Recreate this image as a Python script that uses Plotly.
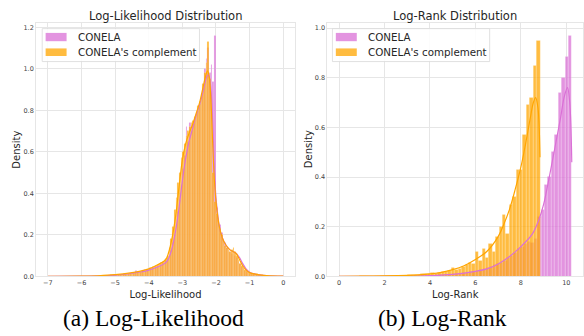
import plotly.graph_objects as go

W, H = 584, 336

# ---------------- Left panel: Log-Likelihood ----------------
ll_bin_start = -5.5
ll_bin_width = 0.05
ll_conela = [
    0.001, 0.002, 0.002, 0.003, 0.003, 0.004, 0.004, 0.004, 0.005, 0.006,
    0.006, 0.007, 0.007, 0.008, 0.009, 0.009, 0.010, 0.012, 0.013, 0.014,
    0.015, 0.016, 0.025, 0.018, 0.020, 0.022, 0.023, 0.030, 0.026, 0.030,
    0.031, 0.034, 0.037, 0.040, 0.044, 0.048, 0.053, 0.058, 0.064, 0.072,
    0.075, 0.085, 0.100, 0.125, 0.160, 0.200, 0.250, 0.310, 0.370, 0.440,
    0.520, 0.580, 0.720, 0.650, 0.740, 0.700, 0.730, 0.760, 0.780, 0.800,
    0.830, 0.860, 0.900, 1.000, 1.050, 1.100, 0.980, 1.020, 0.940, 1.160,
    0.330, 0.280, 0.250, 0.210, 0.180, 0.160, 0.140, 0.120, 0.120, 0.110,
    0.110, 0.100, 0.090, 0.070, 0.060, 0.045, 0.035, 0.028, 0.022, 0.018,
    0.015, 0.013, 0.011, 0.010, 0.008, 0.007, 0.006, 0.005, 0.004, 0.003,
]
ll_complement = [
    0.002, 0.003, 0.003, 0.004, 0.004, 0.005, 0.005, 0.006, 0.006, 0.007,
    0.007, 0.008, 0.009, 0.008, 0.010, 0.011, 0.012, 0.011, 0.014, 0.015,
    0.016, 0.018, 0.017, 0.020, 0.022, 0.021, 0.025, 0.027, 0.026, 0.030,
    0.040, 0.042, 0.045, 0.048, 0.052, 0.056, 0.060, 0.066, 0.072, 0.078,
    0.085, 0.100, 0.140, 0.180, 0.240, 0.320, 0.380, 0.450, 0.500, 0.570,
    0.600, 0.640, 0.680, 0.700, 0.720, 0.740, 0.750, 0.770, 0.790, 0.820,
    0.840, 0.880, 0.930, 0.980, 1.030, 1.130, 0.950, 0.800, 0.500, 0.360,
    0.300, 0.260, 0.230, 0.200, 0.170, 0.150, 0.140, 0.130, 0.120, 0.130,
    0.140, 0.120, 0.100, 0.080, 0.060, 0.050, 0.040, 0.030, 0.025, 0.020,
    0.018, 0.015, 0.012, 0.012, 0.015, 0.010, 0.008, 0.006, 0.004, 0.003,
]
ll_kde_x = [-7, -6, -5.5, -5, -4.5, -4.25, -4, -3.75, -3.5, -3.4, -3.3, -3.2, -3.1,
            -3.0, -2.9, -2.8, -2.7, -2.6, -2.5, -2.4, -2.3, -2.25, -2.2, -2.15, -2.1,
            -2.05, -2.0, -1.95, -1.9, -1.8, -1.7, -1.6, -1.5, -1.4, -1.3, -1.2, -1.1,
            -1.0, -0.8, -0.5, 0]
ll_kde_complement = [0, 0.001, 0.003, 0.008, 0.018, 0.025, 0.036, 0.055, 0.08, 0.12,
                     0.19, 0.29, 0.43, 0.56, 0.64, 0.69, 0.73, 0.78, 0.83, 0.90, 0.97,
                     0.99, 0.96, 0.85, 0.65, 0.47, 0.36, 0.29, 0.24, 0.18, 0.15, 0.13,
                     0.12, 0.11, 0.08, 0.05, 0.03, 0.018, 0.01, 0.004, 0.001]
ll_kde_conela = [0, 0.001, 0.002, 0.006, 0.015, 0.021, 0.030, 0.045, 0.065, 0.09,
                 0.14, 0.22, 0.33, 0.46, 0.57, 0.65, 0.71, 0.77, 0.82, 0.88, 0.95,
                 0.97, 0.96, 0.90, 0.75, 0.52, 0.38, 0.30, 0.24, 0.18, 0.15, 0.13,
                 0.12, 0.11, 0.09, 0.06, 0.035, 0.02, 0.01, 0.004, 0.001]
ll_xticks = [-7, -6, -5, -4, -3, -2, -1, 0]
ll_yticks = [0.0, 0.2, 0.4, 0.6, 0.8, 1.0, 1.2]

# ---------------- Right panel: Log-Rank ----------------
lr_bin_width = 0.15
lr_complement_start = -0.01
lr_complement = [
    0.0, 0.0, 0.0005, 0.0, 0.0005, 0.0005, 0.001, 0.001, 0.001, 0.001,
    0.001, 0.0015, 0.0015, 0.002, 0.002, 0.002, 0.003, 0.003, 0.004, 0.004,
    0.005, 0.005, 0.008, 0.006, 0.009, 0.012, 0.010, 0.013, 0.012, 0.016,
    0.018, 0.020, 0.022, 0.035, 0.028, 0.032, 0.040, 0.045, 0.055, 0.050,
    0.100, 0.065, 0.110, 0.075, 0.130, 0.100, 0.160, 0.200, 0.250, 0.170,
    0.290, 0.320, 0.430, 0.430, 0.570, 0.690, 0.720, 0.850, 0.950,
]
lr_conela_start = 0.04
lr_conela = [
    0, 0, 0, 0, 0, 0, 0, 0.0005, 0.0005, 0.0005,
    0.0005, 0.0005, 0.001, 0.001, 0.001, 0.001, 0.001, 0.001, 0.0015, 0.0015,
    0.002, 0.002, 0.002, 0.0025, 0.003, 0.003, 0.004, 0.004, 0.005, 0.005,
    0.006, 0.007, 0.008, 0.009, 0.010, 0.012, 0.013, 0.015, 0.017, 0.020,
    0.022, 0.025, 0.030, 0.033, 0.038, 0.045, 0.050, 0.055, 0.065, 0.075,
    0.085, 0.095, 0.110, 0.120, 0.130, 0.140, 0.135, 0.150, 0.240, 0.270,
    0.370, 0.400, 0.500, 0.570, 0.740, 0.800, 0.885, 0.970,
]
lr_kde_complement_x = [0, 1, 2, 3, 3.5, 4, 4.5, 5, 5.5, 6, 6.5, 7, 7.25, 7.5, 7.75,
                       8.0, 8.2, 8.4, 8.55, 8.65, 8.75, 8.84]
lr_kde_complement = [0.0005, 0.001, 0.002, 0.004, 0.006, 0.010, 0.016, 0.027, 0.043,
                     0.068, 0.100, 0.160, 0.210, 0.270, 0.350, 0.440, 0.530, 0.630,
                     0.700, 0.720, 0.680, 0.480]
lr_kde_conela_x = [0, 2, 3, 4, 5, 6, 6.5, 7, 7.5, 8, 8.5, 8.8, 9.0, 9.25, 9.5, 9.75,
                   9.9, 10.05, 10.15, 10.24]
lr_kde_conela = [0, 0.0005, 0.001, 0.003, 0.008, 0.020, 0.030, 0.050, 0.080, 0.120,
                 0.170, 0.230, 0.290, 0.400, 0.520, 0.640, 0.720, 0.760, 0.700, 0.460]
lr_xticks = [0, 2, 4, 6, 8, 10]
lr_yticks = [0.0, 0.2, 0.4, 0.6, 0.8, 1.0]

series_names = ["CONELA", "CONELA's complement"]
titles = ["Log-Likelihood Distribution", "Log-Rank Distribution"]
xlabels = ["Log-Likelihood", "Log-Rank"]
ylabel = "Density"
captions = ["(a) Log-Likelihood", "(b) Log-Rank"]

VIOLET = "rgba(218,112,214,0.75)"
ORANGE = "rgba(255,165,0,0.75)"
VIOLET_LINE = "rgb(218,112,214)"
ORANGE_LINE = "rgb(255,165,0)"
EDGE = dict(color="rgba(255,255,255,0.55)", width=0.35)
GRID = "#E6E6E6"
TXT = "#262626"


def centers(start, width, n):
    return [start + width * (i + 0.5) for i in range(n)]


fig = go.Figure()
# Left
fig.add_bar(x=centers(ll_bin_start, ll_bin_width, len(ll_conela)), y=ll_conela,
            width=ll_bin_width, marker=dict(color=VIOLET, line=EDGE),
            xaxis="x", yaxis="y", showlegend=False, name=series_names[0])
fig.add_bar(x=centers(ll_bin_start, ll_bin_width, len(ll_complement)), y=ll_complement,
            width=ll_bin_width, marker=dict(color=ORANGE, line=EDGE),
            xaxis="x", yaxis="y", showlegend=False, name=series_names[1])
fig.add_scatter(x=ll_kde_x, y=ll_kde_conela, mode="lines", line=dict(color=VIOLET_LINE, width=1.2, shape="spline"),
                xaxis="x", yaxis="y", showlegend=False)
fig.add_scatter(x=ll_kde_x, y=ll_kde_complement, mode="lines", line=dict(color=ORANGE_LINE, width=1.2, shape="spline"),
                xaxis="x", yaxis="y", showlegend=False)
# Right
fig.add_bar(x=centers(lr_conela_start, lr_bin_width, len(lr_conela)), y=lr_conela,
            width=lr_bin_width, marker=dict(color=VIOLET, line=EDGE),
            xaxis="x2", yaxis="y2", showlegend=False, name=series_names[0])
fig.add_bar(x=centers(lr_complement_start, lr_bin_width, len(lr_complement)), y=lr_complement,
            width=lr_bin_width, marker=dict(color=ORANGE, line=EDGE),
            xaxis="x2", yaxis="y2", showlegend=False, name=series_names[1])
fig.add_scatter(x=lr_kde_conela_x, y=lr_kde_conela, mode="lines", line=dict(color=VIOLET_LINE, width=1.2, shape="spline"),
                xaxis="x2", yaxis="y2", showlegend=False)
fig.add_scatter(x=lr_kde_complement_x, y=lr_kde_complement, mode="lines", line=dict(color=ORANGE_LINE, width=1.2, shape="spline"),
                xaxis="x2", yaxis="y2", showlegend=False)


def px_x(p):
    return p / W


def px_y(p):
    return (H - p) / H


ydom = [px_y(279.7), px_y(23)]
axis_common = dict(showgrid=True, gridcolor=GRID, gridwidth=1, zeroline=False,
                   showline=True, linecolor=GRID, linewidth=1, mirror=True,
                   ticks="", tickfont=dict(family="DejaVu Sans", size=6.5, color="#444444"))


def minus(v):
    s = f"{v:g}"
    return s.replace("-", "\u2212")


fig.update_layout(
    width=W, height=H, margin=dict(l=0, r=0, t=0, b=0),
    paper_bgcolor="white", plot_bgcolor="white", barmode="overlay", bargap=0,
    xaxis=dict(domain=[px_x(36.2), px_x(295.5)], range=[-7.35, 0.35], anchor="y",
               tickvals=ll_xticks, ticktext=[minus(v) for v in ll_xticks],
               title=dict(text=xlabels[0], font=dict(family="DejaVu Sans", size=10, color=TXT), standoff=4),
               **axis_common),
    yaxis=dict(domain=ydom, range=[0, 1.222], anchor="x",
               tickvals=ll_yticks, ticktext=[f"{v:.1f}" for v in ll_yticks],
               **axis_common),
    xaxis2=dict(domain=[px_x(328.0), 1.0], range=[-0.512, 10.734], anchor="y2",
                tickvals=lr_xticks, ticktext=[minus(v) for v in lr_xticks],
                title=dict(text=xlabels[1], font=dict(family="DejaVu Sans", size=10, color=TXT), standoff=4),
                **axis_common),
    yaxis2=dict(domain=ydom, range=[0, 1.0215], anchor="x2",
                tickvals=lr_yticks, ticktext=[f"{v:.1f}" for v in lr_yticks],
                **axis_common),
)

annotations = []
shapes = []
# titles
for cx, t in zip([165.3, 455.5], titles):
    annotations.append(dict(x=px_x(cx), y=px_y(16), xref="paper", yref="paper", text=t,
                            showarrow=False, xanchor="center", yanchor="middle",
                            font=dict(family="DejaVu Sans", size=11.5, color=TXT)))
# y-axis titles
for cx in [16.5, 308.5]:
    annotations.append(dict(x=px_x(cx), y=px_y(151), xref="paper", yref="paper", text=ylabel,
                            showarrow=False, xanchor="center", yanchor="middle", textangle=-90,
                            font=dict(family="DejaVu Sans", size=10, color=TXT)))
# captions
for cx, t in zip([153.4, 443.4], captions):
    annotations.append(dict(x=px_x(cx), y=px_y(322), xref="paper", yref="paper", text=t,
                            showarrow=False, xanchor="center", yanchor="middle",
                            font=dict(family="Liberation Serif", size=23.5, color="black")))
# legends
for bx in [42.3, 333.0]:
    shapes.append(dict(type="rect", xref="paper", yref="paper",
                       x0=px_x(bx), x1=px_x(bx + 157.5), y0=px_y(62.3), y1=px_y(29),
                       line=dict(color="#D9D9D9", width=0.8), fillcolor="rgba(255,255,255,0.85)",
                       layer="above"))
    for (yy0, yy1), col, name in zip([(33.3, 41.7), (49, 56.7)], [VIOLET, ORANGE], series_names):
        shapes.append(dict(type="rect", xref="paper", yref="paper",
                           x0=px_x(bx + 3.4), x1=px_x(bx + 24.4), y0=px_y(yy1), y1=px_y(yy0),
                           line=dict(width=0), fillcolor=col, layer="above"))
        annotations.append(dict(x=px_x(bx + 33.4), y=px_y((yy0 + yy1) / 2), xref="paper", yref="paper",
                                text=name, showarrow=False, xanchor="left", yanchor="middle",
                                font=dict(family="DejaVu Sans", size=10.3, color=TXT)))

fig.update_layout(annotations=annotations, shapes=shapes)
fig.write_html("out.html")
